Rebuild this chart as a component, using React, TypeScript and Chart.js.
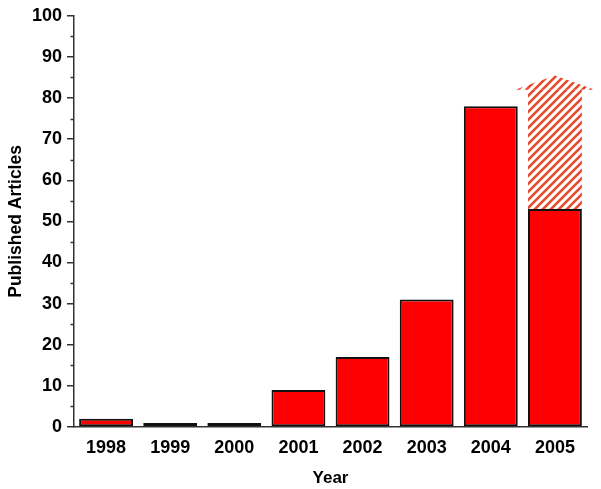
import React, { useEffect, useRef } from 'react';
import { Chart, registerables } from 'chart.js';

Chart.register(...registerables);

const years = ['1998', '1999', '2000', '2001', '2002', '2003', '2004', '2005'];
const articles = [2, 1, 1, 9, 17, 31, 78, 53];
const projectedExtra = [0, 0, 0, 0, 0, 0, 0, 29];
const projectedTip = 85.5;
const yMax = 100;
const yStep = 10;
const minorTicks = [5, 15, 25, 35, 45, 55, 65, 75, 85, 95];

const FONT = "'Liberation Sans', Arial, Helvetica, sans-serif";

function makeHatch(): CanvasPattern | string {
  const size = 8;
  const c = document.createElement('canvas');
  c.width = size;
  c.height = size;
  const ctx = c.getContext('2d');
  if (!ctx) return '#e8492a';
  ctx.strokeStyle = '#e8492a';
  ctx.lineWidth = 2.6;
  ctx.beginPath();
  ctx.moveTo(-2, size + 2);
  ctx.lineTo(size + 2, -2);
  ctx.moveTo(-2, 2);
  ctx.lineTo(2, -2);
  ctx.moveTo(size - 2, size + 2);
  ctx.lineTo(size + 2, size - 2);
  ctx.stroke();
  const p = ctx.createPattern(c, 'repeat');
  return p || '#e8492a';
}

export default function App() {
  const ref = useRef<HTMLCanvasElement>(null);

  useEffect(() => {
    document.body.style.margin = '0';
    const canvas = ref.current;
    if (!canvas) return;
    const hatch = makeHatch();

    const arrowPlugin = {
      id: 'arrowTip',
      afterDatasetsDraw(chart: any) {
        const meta = chart.getDatasetMeta(1);
        const idx = projectedExtra.findIndex((v) => v > 0);
        if (idx < 0) return;
        const el: any = meta.data[idx];
        const yScale = chart.scales.y;
        const ctx = chart.ctx;
        const half = el.width * 0.74;
        const tipY = yScale.getPixelForValue(projectedTip);
        ctx.save();
        ctx.fillStyle = hatch;
        ctx.beginPath();
        ctx.moveTo(el.x - half, el.y);
        ctx.lineTo(el.x + half, el.y);
        ctx.lineTo(el.x, tipY);
        ctx.closePath();
        ctx.fill();
        ctx.restore();
      },
      afterDraw(chart: any) {
        const yScale = chart.scales.y;
        const ctx = chart.ctx;
        const x = chart.chartArea.left;
        ctx.save();
        ctx.strokeStyle = '#333';
        ctx.lineWidth = 1.5;
        ctx.beginPath();
        minorTicks.forEach((v) => {
          const y = Math.round(yScale.getPixelForValue(v)) + 0.5;
          ctx.moveTo(x - 3.5, y);
          ctx.lineTo(x, y);
        });
        ctx.stroke();
        ctx.restore();
      },
    };

    const chart = new Chart(canvas, {
      type: 'bar',
      data: {
        labels: years,
        datasets: [
          {
            label: 'Published Articles',
            data: articles,
            backgroundColor: '#ff0000',
            borderColor: '#111',
            borderWidth: 2,
            borderSkipped: false,
            barPercentage: 0.84,
            categoryPercentage: 1,
          },
          {
            label: 'Projected',
            data: projectedExtra,
            backgroundColor: hatch as any,
            borderWidth: 0,
            barPercentage: 0.84,
            categoryPercentage: 1,
          },
        ],
      },
      options: {
        responsive: false,
        animation: false,
        layout: { padding: { left: 0, right: 14, top: 14, bottom: 0 } },
        plugins: {
          legend: { display: false },
          tooltip: { enabled: false },
        },
        scales: {
          x: {
            stacked: true,
            grid: { display: false, drawTicks: false },
            border: { display: true, color: '#333', width: 1.5 },
            ticks: {
              color: '#000',
              padding: 10,
              font: { family: FONT, size: 18, weight: 'bold' },
            },
            title: {
              display: true,
              text: 'Year',
              color: '#000',
              padding: { top: 6, bottom: 0 },
              font: { family: FONT, size: 17, weight: 'bold' },
            },
            afterFit: (s: any) => {
              s.height = 62;
            },
          },
          y: {
            stacked: true,
            min: 0,
            max: yMax,
            grid: {
              drawOnChartArea: false,
              drawTicks: true,
              tickLength: 7,
              tickColor: '#333',
              lineWidth: 1.5,
            },
            border: { display: true, color: '#333', width: 1.5 },
            ticks: {
              stepSize: yStep,
              color: '#000',
              padding: 5,
              font: { family: FONT, size: 18, weight: 'bold' },
            },
            title: {
              display: true,
              text: 'Published Articles',
              color: '#000',
              padding: { top: 6, bottom: 0 },
              font: { family: FONT, size: 17.5, weight: 'bold' },
            },
            afterFit: (s: any) => {
              s.width = 74;
            },
          },
        },
      },
      plugins: [arrowPlugin],
    });

    return () => chart.destroy();
  }, []);

  return (
    <div style={{ position: 'absolute', left: 0, top: 0, width: 601, height: 489, background: '#fff' }}>
      <canvas ref={ref} width={601} height={489} style={{ display: 'block' }} />
    </div>
  );
}
